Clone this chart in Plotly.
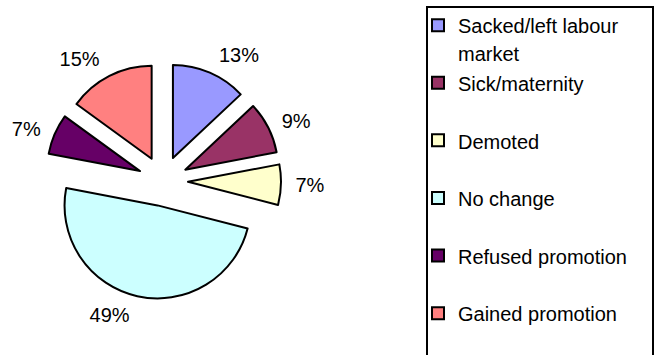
import plotly.graph_objects as go

categories = ["Sacked/left labour market", "Sick/maternity", "Demoted",
              "No change", "Refused promotion", "Gained promotion"]
legend_text = ["Sacked/left labour<br>market", "Sick/maternity<br> ", "Demoted<br> ",
               "No change<br> ", "Refused promotion<br> ", "Gained promotion"]
values = [13, 9, 7, 49, 7, 15]
colors = ["#9999FF", "#993366", "#FFFFCC", "#CCFFFF", "#660066", "#FF8080"]

W, H = 654, 355
cx, cy = 163, 181
r, shift = 93, 25


def domain_for(radius, pull):
    size = 2 * radius * (1 + pull)
    return dict(x=[(cx - size / 2) / W, (cx + size / 2) / W],
                y=[1 - (cy + size / 2) / H, 1 - (cy - size / 2) / H])


legend_labels = ["<span style='font-size:20px'>%s</span>" % t.replace("<br>", "</span><br><span style='font-size:20px'>")
                 for t in legend_text]

pull_main = shift / r
fig = go.Figure()
fig.add_trace(go.Pie(
    labels=legend_labels,
    values=values,
    sort=False,
    direction="clockwise",
    rotation=0,
    pull=[pull_main] * len(values),
    marker=dict(colors=colors, line=dict(color="black", width=2)),
    textinfo="none",
    automargin=False,
    hoverinfo="value",
    domain=domain_for(r, pull_main),
))

# label ring (same data), slightly larger radius so percentages sit further out
r_lab = r + 9
pull_lab = shift / r_lab
fig.add_trace(go.Pie(
    labels=legend_labels,
    values=values,
    sort=False,
    direction="clockwise",
    rotation=0,
    pull=[pull_lab] * len(values),
    marker=dict(colors=["rgba(0,0,0,0)"] * len(values), line=dict(width=0)),
    texttemplate="%{percent:.0%}",
    textposition="outside",
    outsidetextfont=dict(size=20, color="black"),
    automargin=False,
    showlegend=False,
    hoverinfo="skip",
    domain=domain_for(r_lab, pull_lab),
))

fig.update_layout(
    width=W, height=H,
    margin=dict(l=0, r=0, t=0, b=0),
    paper_bgcolor="white",
    plot_bgcolor="white",
    font=dict(family="Liberation Sans, Arial, sans-serif", size=20, color="black"),
    showlegend=True,
    legend=dict(x=418 / W, y=1 - 5 / H, xanchor="left", yanchor="top",
                valign="top", bgcolor="rgba(0,0,0,0)", borderwidth=0,
                font=dict(size=21)),
    shapes=[dict(type="rect", xref="paper", yref="paper",
                 x0=427 / W, x1=653 / W, y0=-0.1, y1=1 - 7 / H,
                 line=dict(color="black", width=2))],
)

fig.write_html("out.html")
